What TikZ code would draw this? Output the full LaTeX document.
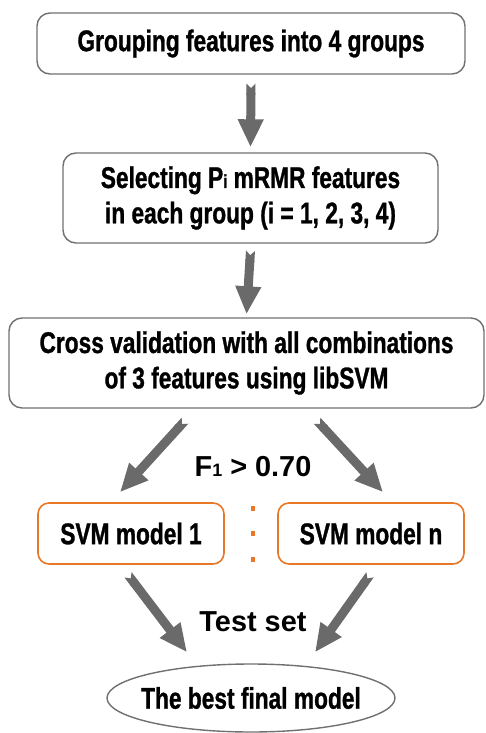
\documentclass[tikz,border=0pt]{standalone}
\usepackage{fontspec}
\setmainfont{Liberation Sans}[FakeStretch=0.76, BoldFeatures={FakeBold=1}]
\newfontfamily\labelfont{Liberation Sans}
\usetikzlibrary{arrows.meta,shapes.geometric,calc}

\definecolor{boxgray}{RGB}{112,112,112}
\definecolor{arrowgray}{RGB}{106,106,106}
\definecolor{svmorange}{RGB}{232,120,40}

\begin{document}
\begin{tikzpicture}[x=1bp,y=-1bp,
  stepbox/.style={draw=boxgray, line width=1.4bp, rounded corners=13bp, align=center, inner sep=0pt},
  svmbox/.style={draw=svmorange, line width=1.6bp, rounded corners=11bp, minimum width=186bp, minimum height=61bp},
  flowarrow/.style={draw=arrowgray, line width=9bp, {Triangle Cap[reversed]}-{Triangle[width=24bp,length=28bp]}},
  bigtext/.style={font=\fontsize{30}{35.5}\selectfont\bfseries},
  condtext/.style={font=\labelfont\fontsize{29}{34}\selectfont\bfseries}]

\useasboundingbox (0,0) rectangle (486,733);

% Steps
\node[stepbox, bigtext, minimum width=428bp, minimum height=61bp] (group) at (251,43.5) {Grouping features into 4 groups};
\node[stepbox, bigtext, minimum width=375bp, minimum height=90bp] (select) at (250.5,198) {Selecting P{\fontsize{19}{19}\selectfont i} mRMR features\\in each group (i = 1, 2, 3, 4)};
\node[stepbox, bigtext, minimum width=475bp, minimum height=90bp] (cross) at (246.5,363) {Cross validation with all combinations\\of 3 features using libSVM};

% Models
\node[svmbox, bigtext] (svm1) at (131,533.5) {SVM model 1};
\node[svmbox, bigtext] (svmn) at (371,533.5) {SVM model n};
\foreach \y in {508,533.5,559}
  \fill[svmorange] (251,{\y-2.5}) rectangle (255,{\y+2.5});

% Final model
\node[draw=boxgray, line width=1.4bp, ellipse, bigtext, inner xsep=-10bp, inner ysep=0pt,
  minimum width=288bp, minimum height=68bp] (final) at (251,698) {The best final model};

% Conditions
\node[condtext] (f1) at (253,467) {F{\fontsize{18}{18}\selectfont 1} > 0.70};
\node[condtext] (test) at (253,622) {Test set};

% Arrows
\draw[flowarrow] ($(group.south)+(0,9)$) -- ($(select.north)+(0,-5)$);
\draw[flowarrow] ($(select.south)+(0,7)$) -- ($(cross.north)+(0,-3)$);
\draw[flowarrow] ($(cross.south)+(-61.5,12)$) -- ($(svm1.north)+(-11,-10)$);
\draw[flowarrow] ($(cross.south)+(70.5,12)$) -- ($(svmn.north)+(12,-10)$);
\draw[flowarrow] ($(svm1.south)+(-3,10)$) -- ($(final.north)+(-64,-11)$);
\draw[flowarrow] ($(svmn.south)+(-1,10)$) -- ($(final.north)+(64,-11)$);

\end{tikzpicture}
\end{document}
